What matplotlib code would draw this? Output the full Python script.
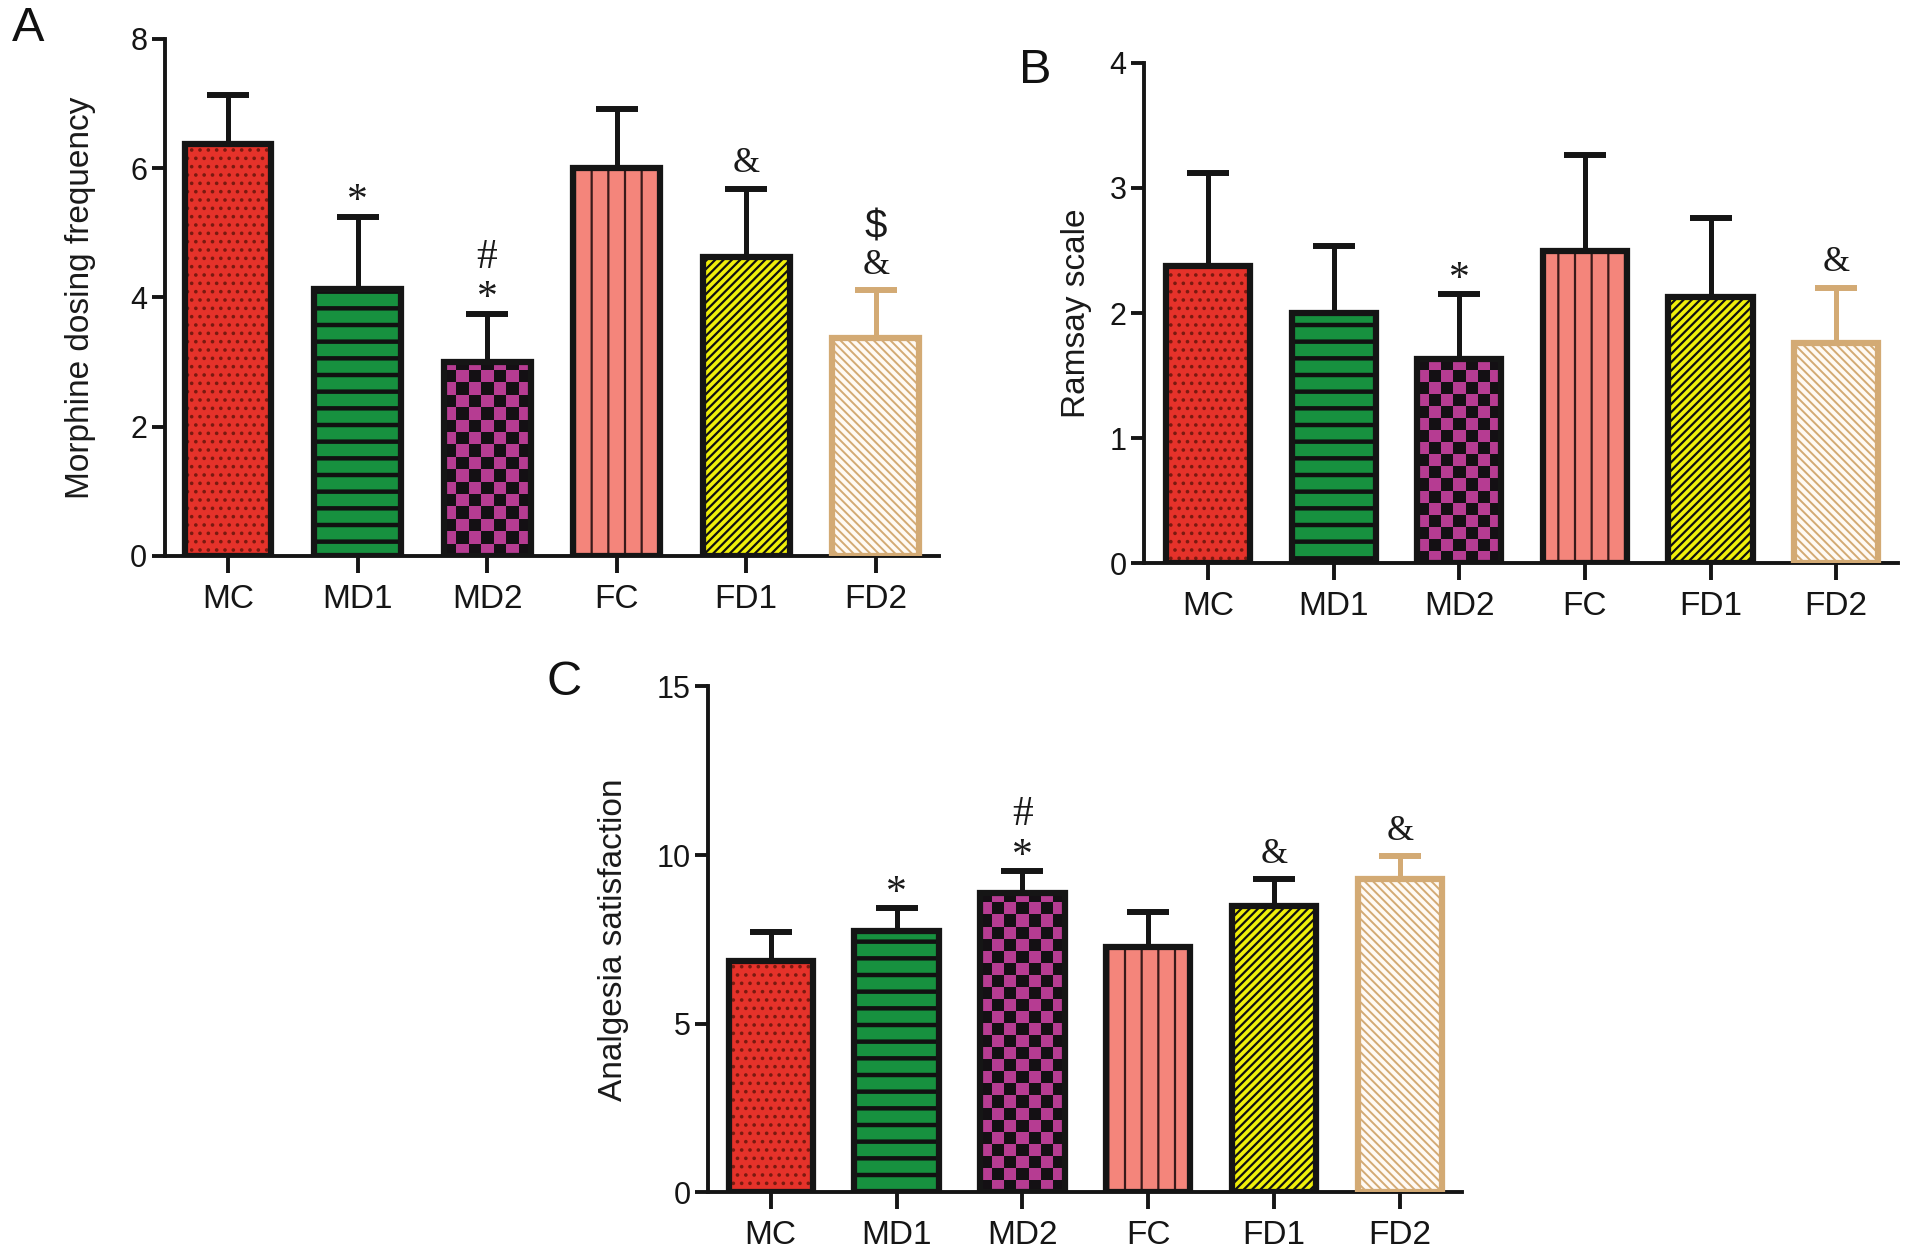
import numpy as np
import matplotlib
matplotlib.use('Agg')
import matplotlib.pyplot as plt

# ---------------- data ----------------
groups = ['MC', 'MD1', 'MD2', 'FC', 'FD1', 'FD2']

morphine_mean = [6.38, 4.13, 3.00, 6.00, 4.62, 3.38]
morphine_sd = [0.75, 1.12, 0.75, 0.92, 1.06, 0.73]
morphine_marks = ['', '*', '#\n*', '', '&', '$\n&']

ramsay_mean = [2.38, 2.00, 1.63, 2.50, 2.13, 1.76]
ramsay_sd = [0.74, 0.54, 0.52, 0.76, 0.63, 0.44]
ramsay_marks = ['', '', '*', '', '', '&']

satisf_mean = [6.85, 7.75, 8.88, 7.28, 8.48, 9.28]
satisf_sd = [0.87, 0.69, 0.65, 1.02, 0.80, 0.68]
satisf_marks = ['', '*', '#\n*', '', '&', '&']

morphine_ticks = [0, 2, 4, 6, 8]
ramsay_ticks = [0, 1, 2, 3, 4]
satisf_ticks = [0, 5, 10, 15]

# ---------------- styles ----------------
fills = ['#e5322a', '#17913f', '#b63c92', '#f4857b', '#f0ef0a', '#fffaf4']
hatch_cols = ['#7a1a10', '#111111', None, '#3a1a1a', '#111111', '#d3aa74']
hatches = ['..', '-', None, '|', '////', '\\\\\\\\']
hatch_lw = [1.4, 3.2, 0, 1.6, 1.6, 1.4]
edge_cols = ['#151515'] * 5 + ['#d3aa74']
BAR_W = 0.67

SANS = ['Liberation Sans', 'DejaVu Sans']
SERIF = ['Liberation Serif', 'DejaVu Serif']

fig = plt.figure(figsize=(19.13, 12.55), dpi=100)


def add_marks(ax, xi, top, mark):
    if not mark:
        return
    lines = mark.split('\n')
    bottom = lines[-1]
    if bottom == '*':
        base = 3
    else:
        base = 12
    if lines[0] == '$':
        # '$' (sans) above a serif '&'
        ax.annotate('&', (xi, top), xytext=(0, base), textcoords='offset points',
                    ha='center', va='baseline', fontsize=25, family=SERIF, color='#1a1a1a')
        ax.annotate('$', (xi, top), xytext=(0, base + 25), textcoords='offset points',
                    ha='center', va='baseline', fontsize=29, family=SANS, color='#1a1a1a')
        return
    fs = 30 if bottom == '*' else 25
    ax.annotate(mark, (xi, top), xytext=(0, base), textcoords='offset points',
                ha='center', va='baseline', fontsize=fs, family=SERIF,
                linespacing=1.1, color='#1a1a1a')


def panel(rect, means, sds, marks, ticks, ylabel, letter, letter_pos, xlim, label_x):
    ax = fig.add_axes(rect)
    x = np.arange(len(groups))
    ax.set_xlim(*xlim)
    ax.set_ylim(ticks[0], ticks[-1])
    for i in range(len(groups)):
        # error bar (upper only)
        ax.errorbar(x[i], means[i], yerr=[[0], [sds[i]]], fmt='none',
                    ecolor=edge_cols[i], elinewidth=3.6, capsize=15,
                    capthick=4.3, zorder=1)
        # filled bar
        ax.bar(x[i], means[i], width=BAR_W, color=fills[i], linewidth=0, zorder=2)
        # hatch overlay
        if hatches[i] is not None:
            with plt.rc_context({'hatch.linewidth': hatch_lw[i]}):
                hb = ax.bar(x[i], means[i], width=BAR_W, fill=False,
                            edgecolor=hatch_cols[i], linewidth=0,
                            hatch=hatches[i], zorder=3)
                for p in hb.patches:
                    if hasattr(p, 'set_hatch_linewidth'):
                        p.set_hatch_linewidth(hatch_lw[i])
        else:
            # checkerboard, clipped to the bar
            ob = ax.bar(x[i], means[i], width=BAR_W, fill=False, linewidth=0, zorder=3)
            p = ob.patches[0]
            ncol = 7
            t = ax.transData
            wpx = t.transform((BAR_W, 0))[0] - t.transform((0, 0))[0]
            sq_px = wpx / ncol
            ypx = t.transform((0, 1))[1] - t.transform((0, 0))[1]
            sq_data = sq_px / ypx
            nrow = int(np.ceil(means[i] / sq_data)) + 1
            board = (np.add.outer(np.arange(nrow), np.arange(ncol)) % 2).astype(float)
            cmap = matplotlib.colors.ListedColormap(['#141014', fills[i]])
            im = ax.imshow(board, cmap=cmap, origin='lower', interpolation='nearest',
                           extent=(p.get_x(), p.get_x() + BAR_W, 0, nrow * sq_data),
                           aspect='auto', zorder=3)
            im.set_clip_path(p)
        # outline
        ax.bar(x[i], means[i], width=BAR_W, fill=False, edgecolor=edge_cols[i],
               linewidth=4.5, zorder=4)
        add_marks(ax, x[i], means[i] + sds[i], marks[i])
    ax.set_xlim(*xlim)
    ax.set_ylim(ticks[0], ticks[-1])
    ax.set_xticks(x)
    ax.set_xticklabels(groups, fontsize=24, family=SANS)
    ax.set_yticks(ticks)
    ax.set_yticklabels([str(v) for v in ticks], fontsize=22, family=SANS)
    for s in ['top', 'right']:
        ax.spines[s].set_visible(False)
    for s in ['left', 'bottom']:
        ax.spines[s].set_linewidth(2.8)
        ax.spines[s].set_color('#151515')
    ax.tick_params(axis='x', length=12, width=2.8, pad=8, colors='#151515')
    ax.tick_params(axis='y', length=9.5, width=2.8, pad=3, colors='#151515')
    ax.set_ylabel(ylabel, fontsize=24, family=SANS, color='#1a1a1a')
    ax.yaxis.set_label_coords(label_x, 0.5)
    fig.text(letter_pos[0], letter_pos[1], letter, fontsize=35, family=SANS,
             ha='center', va='center', color='#111111')
    return ax


panel([0.086, 0.557, 0.405, 0.412], morphine_mean, morphine_sd, morphine_marks,
      morphine_ticks, 'Morphine dosing frequency', 'A', (0.0145, 0.977), (-0.49, 5.49), -0.088)
panel([0.598, 0.551, 0.394, 0.399], ramsay_mean, ramsay_sd, ramsay_marks,
      ramsay_ticks, 'Ramsay scale', 'B', (0.541, 0.944), (-0.51, 5.49), -0.069)
panel([0.370, 0.050, 0.394, 0.403], satisf_mean, satisf_sd, satisf_marks,
      satisf_ticks, 'Analgesia satisfaction', 'C', (0.295, 0.456), (-0.50, 5.49), -0.104)

fig.savefig('out.png', dpi=100, facecolor='white')
